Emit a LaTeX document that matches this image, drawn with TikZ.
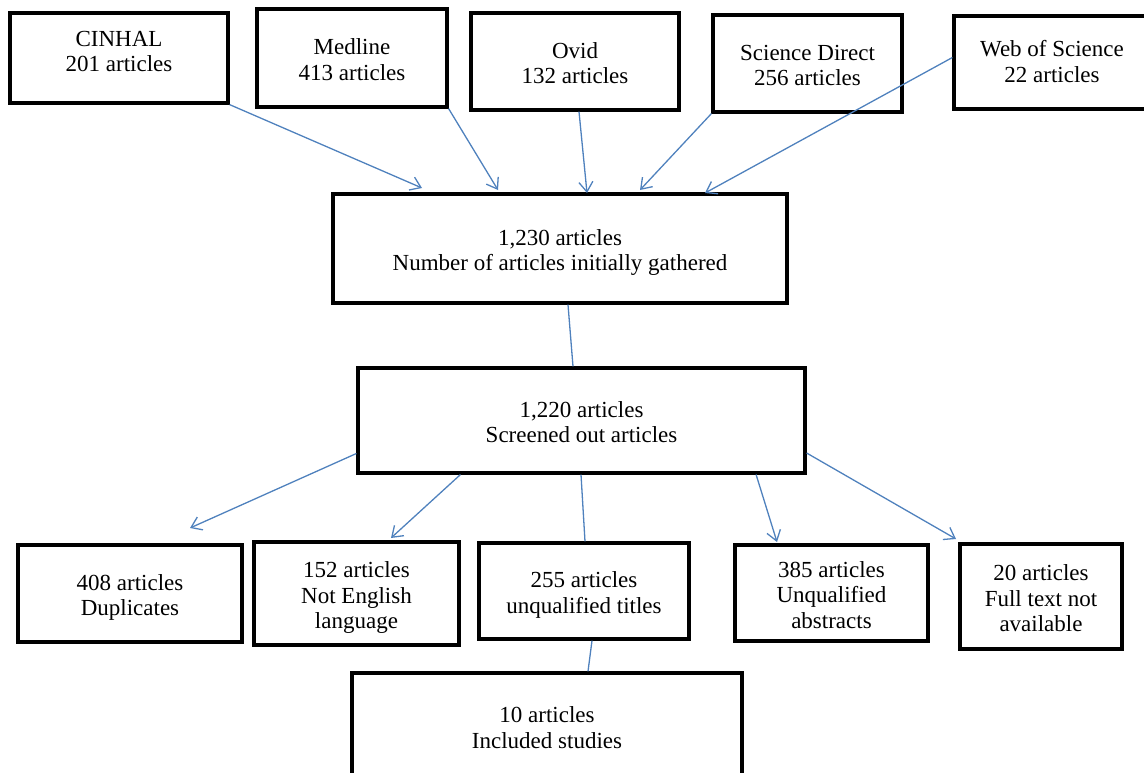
\documentclass[tikz,border=0pt]{standalone}
\usepackage{fontspec}
\setmainfont{Liberation Serif}
\usetikzlibrary{arrows.meta}
\definecolor{arrowblue}{RGB}{79,129,189}
\newcommand\bt[1]{\begin{tabular}{@{}c@{}}\rule{0pt}{27pt}#1\rule[-7.65pt]{0pt}{7.65pt}\end{tabular}}
\tikzset{
  box/.style={draw=black, line width=3.2pt, inner sep=0pt,
    font=\fontsize{23}{25.5}\selectfont},
  txt/.style={inner sep=0pt, font=\fontsize{23}{25.5}\selectfont},
  arr/.style={draw=arrowblue, line width=1.3pt,
    -{Straight Barb[length=10pt,width=14pt,line width=1.3pt]}},
  conn/.style={draw=arrowblue, line width=1.3pt}
}
\begin{document}
\begin{tikzpicture}[x=1pt,y=-1pt]
\useasboundingbox (0,0) rectangle (1144,772);
% top row
\node[box, minimum width=218pt, minimum height=90pt] (cin) at (119,58) {};
\node[txt] (cinT) at (119,49.5) {\bt{CINHAL\\201 articles}};
\node[box, minimum width=190pt, minimum height=98pt] (med) at (352,58) {\bt{Medline\\413 articles}};
\node[box, minimum width=208pt, minimum height=97pt] (ovid) at (575,61.5) {\bt{Ovid\\132 articles}};
\node[box, minimum width=189pt, minimum height=97pt] (sd) at (807.5,63.5) {\bt{Science Direct\\256 articles}};
\node[box, minimum width=230pt, minimum height=93pt] (wos) at (1069,62.5) {};
\node[txt] (wosT) at (1052,60) {\bt{Web of Science\\22 articles}};
% middle
\node[box, minimum width=454pt, minimum height=109pt] (b1) at (560,248.5) {\bt{1,230 articles\\Number of articles initially gathered}};
\node[box, minimum width=447pt, minimum height=105pt] (b2) at (581.5,420.5) {\bt{1,220 articles\\Screened out articles}};
% bottom row
\node[box, minimum width=224pt, minimum height=97pt] (dup) at (130,593.5) {\bt{408 articles\\Duplicates}};
\node[box, minimum width=205pt, minimum height=103pt] (eng) at (356.5,593.5) {\bt{152 articles\\Not English\\language}};
\node[box, minimum width=210pt, minimum height=96pt] (tit) at (584,591) {\bt{255 articles\\unqualified titles}};
\node[box, minimum width=193pt, minimum height=96pt] (abs) at (831.5,593) {\bt{385 articles\\Unqualified\\abstracts}};
\node[box, minimum width=162pt, minimum height=105pt] (full) at (1041,596.5) {\bt{20 articles\\Full text not\\available}};
\node[box, minimum width=390pt, minimum height=106pt] (inc) at (547,726) {\bt{10 articles\\Included studies}};
% arrow tips
\coordinate (t1) at (422,188);
\coordinate (t2) at (498,190);
\coordinate (t3) at (587,193);
\coordinate (t4) at (640,190);
\coordinate (t5) at (705,193);
\coordinate (t7) at (190,528);
\coordinate (t8) at (391,538);
\coordinate (t10) at (777,542);
\coordinate (t11) at (956,539);
% connectors
\draw[arr] (cin.south east) -- (t1);
\draw[arr] (med.south east) -- (t2);
\draw[arr] ([xshift=4pt]ovid.south) -- (t3);
\draw[arr] (sd.south west) -- (t4);
\draw[arr] ([yshift=5pt]wos.west) -- (t5);
\draw[conn] ([xshift=8pt]b1.south) -- ([xshift=-8.5pt]b2.north);
\draw[arr] ([yshift=-33pt]b2.west) -- (t7);
\draw[arr] ([xshift=104pt]b2.south west) -- (t8);
\draw[conn] ([xshift=-0.5pt]b2.south) -- ([xshift=1pt]tit.north);
\draw[arr] ([xshift=-50.5pt]b2.south east) -- (t10);
\draw[arr] ([yshift=-32.5pt]b2.east) -- (t11);
\draw[conn] ([xshift=8pt]tit.south) -- ([xshift=41pt]inc.north);
\end{tikzpicture}
\end{document}
